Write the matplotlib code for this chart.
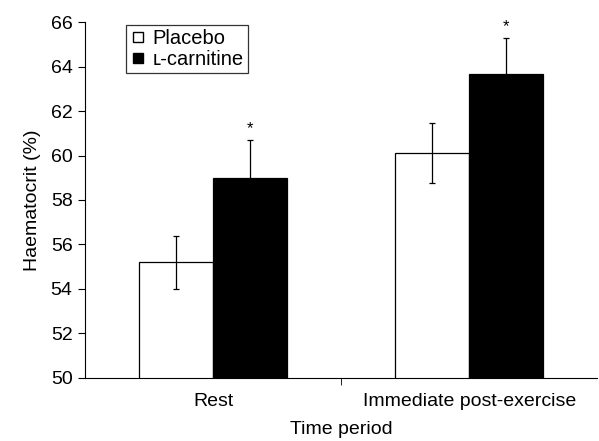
import numpy as np
import matplotlib.pyplot as plt
from matplotlib.lines import Line2D

plt.rcParams['font.family'] = ['Liberation Sans', 'DejaVu Sans']

periods = ["Rest", "Immediate post-exercise"]
placebo = [55.2, 60.1]
placebo_err = [1.2, 1.35]
carnitine = [59.0, 63.65]
carnitine_err = [1.7, 1.65]

fig = plt.figure(figsize=(5.99, 4.41), dpi=100)
ax = fig.add_axes([0.142, 0.143, 0.855, 0.807])

x = np.arange(len(periods))
w = 0.29
ax.bar(x - w / 2, placebo, w, color='white', edgecolor='black', linewidth=0.9)
ax.bar(x + w / 2, carnitine, w, color='black', edgecolor='black', linewidth=0.9)
ax.errorbar(x - w / 2, placebo, yerr=placebo_err, fmt='none', ecolor='black',
            elinewidth=0.9, capsize=2.5, capthick=0.9)
ax.errorbar(x + w / 2, carnitine, yerr=carnitine_err, fmt='none', ecolor='black',
            elinewidth=0.9, capsize=2.5, capthick=0.9)
for xi, v, e in zip(x + w / 2, carnitine, carnitine_err):
    ax.text(xi, v + e + 0.15, '*', ha='center', va='bottom', fontsize=12)

ax.set_ylim(50, 66)
ax.set_yticks(range(50, 67, 2))
ax.set_xlim(-0.5, 1.5)
ax.set_xticks(x)
ax.set_xticklabels(periods)
ax.set_xticks([0.5], minor=True)
ax.tick_params(axis='x', which='major', length=0, labelsize=14, pad=11)
ax.tick_params(axis='x', which='minor', length=5, direction='out')
ax.tick_params(axis='y', length=5, direction='out', labelsize=14, pad=4)
ax.spines['top'].set_visible(False)
ax.spines['right'].set_visible(False)
ax.set_ylabel("Haematocrit (%)", fontsize=14, labelpad=7)
ax.set_xlabel("Time period", fontsize=14, labelpad=8)

handles = [Line2D([], [], marker='s', color='none', markerfacecolor='white',
                  markeredgecolor='black', markersize=7),
           Line2D([], [], marker='s', color='none', markerfacecolor='black',
                  markeredgecolor='black', markersize=7)]
leg = ax.legend(handles, ["Placebo", "\u029f-carnitine"], loc='upper left',
                bbox_to_anchor=(0.075, 1.0), fontsize=14.5, fancybox=False,
                edgecolor='black', handlelength=0.7, handletextpad=0.4,
                borderpad=0.2, labelspacing=0.1, borderaxespad=0.15)
leg.get_frame().set_linewidth(0.9)

plt.savefig('out.png', dpi=100)
